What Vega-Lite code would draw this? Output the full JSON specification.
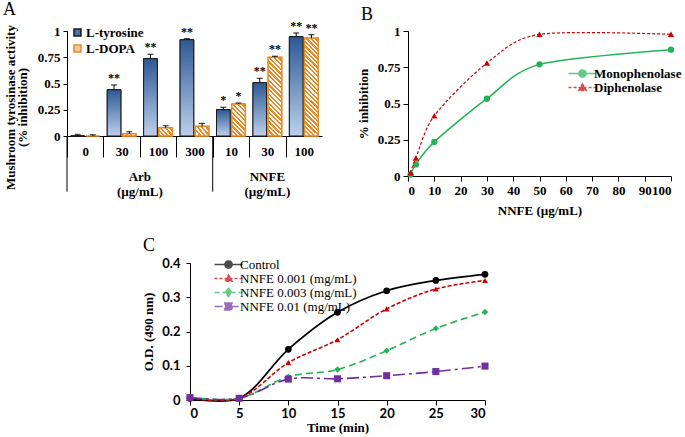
{
"$schema":"https://vega.github.io/schema/vega-lite/v6.json",
"background":"white",
"padding":{"left":3,"top":0,"right":2,"bottom":0},
"config":{"font":"Liberation Serif","view":{"stroke":null},
"axis":{"grid":false,"domainColor":"#000","tickColor":"#000","labelColor":"#000","titleColor":"#000","labelFont":"Liberation Serif","titleFont":"Liberation Serif"},
"legend":{"labelColor":"#000","labelFont":"Liberation Serif"},
"title":{"color":"#000","font":"Liberation Serif"},
"text":{"font":"Liberation Serif"}},
"spacing":20,
"align":"none",
"resolve":{"scale":{"color":"independent","stroke":"independent","shape":"independent","strokeDash":"independent"},"legend":{"color":"independent","stroke":"independent","shape":"independent","strokeDash":"independent"}},
"vconcat":[
{"spacing":35,"align":"none",
"resolve":{"scale":{"color":"independent","stroke":"independent","shape":"independent","strokeDash":"independent"},"legend":{"color":"independent","stroke":"independent","shape":"independent","strokeDash":"independent"}},
"hconcat":[
{
"width":255,"height":105,
"title":{"text":"A","anchor":"start","frame":"group","dx":-64,"fontSize":18,"fontWeight":"normal","offset":1},
"data":{"values":[
{"cat":"Arb|0","substrate":"L-tyrosine","value":0.0,"hi":0.015,"sig":""},
{"cat":"Arb|0","substrate":"L-DOPA","value":0.0,"hi":0.012,"sig":""},
{"cat":"Arb|30","substrate":"L-tyrosine","value":0.441,"hi":0.486,"sig":"**"},
{"cat":"Arb|30","substrate":"L-DOPA","value":0.022,"hi":0.041,"sig":""},
{"cat":"Arb|100","substrate":"L-tyrosine","value":0.737,"hi":0.778,"sig":"**"},
{"cat":"Arb|100","substrate":"L-DOPA","value":0.079,"hi":0.098,"sig":""},
{"cat":"Arb|300","substrate":"L-tyrosine","value":0.917,"hi":0.927,"sig":"**"},
{"cat":"Arb|300","substrate":"L-DOPA","value":0.092,"hi":0.12,"sig":""},
{"cat":"NNFE|10","substrate":"L-tyrosine","value":0.251,"hi":0.273,"sig":"*"},
{"cat":"NNFE|10","substrate":"L-DOPA","value":0.305,"hi":0.314,"sig":"*"},
{"cat":"NNFE|30","substrate":"L-tyrosine","value":0.508,"hi":0.549,"sig":"**"},
{"cat":"NNFE|30","substrate":"L-DOPA","value":0.749,"hi":0.759,"sig":"**"},
{"cat":"NNFE|100","substrate":"L-tyrosine","value":0.946,"hi":0.981,"sig":"**"},
{"cat":"NNFE|100","substrate":"L-DOPA","value":0.933,"hi":0.965,"sig":"**"}
]},
"encoding":{
"x":{"field":"cat","type":"nominal","scale":{"domain":["Arb|0","Arb|30","Arb|100","Arb|300","NNFE|10","NNFE|30","NNFE|100"],"paddingInner":0,"paddingOuter":0},
 "axis":{"labelExpr":"split(datum.label,'|')[1]","labelAngle":0,"labelFontSize":13,"labelFontWeight":"bold","tickBand":"extent","tickSize":21,"labelPadding":-12,"tickOpacity":{"condition":{"test":"datum.value=='NNFE|100'","value":0},"value":1},"title":null}}
},
"layer":[
{"mark":{"type":"bar","strokeWidth":1},
"encoding":{
"y":{"field":"value","type":"quantitative","scale":{"domain":[0,1]},"axis":{"values":[0,0.25,0.5,0.75,1],"format":".2~f","labelFontSize":13,"labelFontWeight":"bold","tickSize":4,"labelPadding":3,"title":["Mushroom tyrosinase activity","(% inhibition)"],"titleFontSize":13,"titleFontWeight":"bold","titlePadding":8,"titleLineHeight":12,"titleY":76}},
"xOffset":{"field":"substrate","type":"nominal","scale":{"domain":["L-tyrosine","L-DOPA"],"paddingInner":0.1,"paddingOuter":0.25}},
"color":{"field":"substrate","type":"nominal","scale":{"domain":["L-tyrosine","L-DOPA"],"range":["#4a72aa","#f9c9a0"]},
 "legend":{"orient":"none","legendX":4,"legendY":-5,"title":null,"labelFontSize":13,"labelFontWeight":"bold","symbolType":"square","symbolSize":49,"rowPadding":2,"labelOffset":2}},
"stroke":{"field":"substrate","type":"nominal","scale":{"domain":["L-tyrosine","L-DOPA"],"range":["#1a1a1a","#e82"]},"legend":{"orient":"none","legendX":4,"legendY":-5,"title":null,"labelFontSize":13,"labelFontWeight":"bold","symbolType":"square","symbolSize":49,"rowPadding":2,"labelOffset":2}}
}},
{"transform":[{"filter":"datum.substrate=='L-tyrosine'"}],
"mark":{"type":"bar","stroke":"#1a1a1a","strokeWidth":1,"fill":{"gradient":"linear","x1":0,"y1":0,"x2":0,"y2":1,"stops":[{"offset":0,"color":"#2e5894"},{"offset":1,"color":"#bcd0ec"}]}},
"encoding":{"xOffset":{"field":"substrate","type":"nominal"},
"y":{"field":"value","type":"quantitative","scale":{"domain":[0,1]},"axis":{"values":[0,0.25,0.5,0.75,1],"format":".2~f","labelFontSize":13,"labelFontWeight":"bold","tickSize":4,"labelPadding":3,"title":["Mushroom tyrosinase activity","(% inhibition)"],"titleFontSize":13,"titleFontWeight":"bold","titlePadding":8,"titleLineHeight":12,"titleY":76}}}},
{"transform":[{"filter":"datum.substrate=='L-DOPA' && (datum.cat=='Arb|30' || datum.cat=='Arb|100' || datum.cat=='Arb|300')"}],
"mark":{"type":"bar","stroke":"#e82","strokeWidth":1.5,"fill":{"gradient":"linear","x1":0,"y1":1,"x2":1.18,"y2":0.306,"stops":[
{"offset":0.1,"color":"#e82"},{"offset":0.1,"color":"#fff"},{"offset":0.2,"color":"#fff"},{"offset":0.2,"color":"#e82"},
{"offset":0.3,"color":"#e82"},{"offset":0.3,"color":"#fff"},{"offset":0.4,"color":"#fff"},{"offset":0.4,"color":"#e82"},
{"offset":0.5,"color":"#e82"},{"offset":0.5,"color":"#fff"},{"offset":0.6,"color":"#fff"},{"offset":0.6,"color":"#e82"},
{"offset":0.7,"color":"#e82"},{"offset":0.7,"color":"#fff"},{"offset":0.8,"color":"#fff"},{"offset":0.8,"color":"#e82"},
{"offset":0.9,"color":"#e82"},{"offset":0.9,"color":"#fff"}]}},
"encoding":{"xOffset":{"field":"substrate","type":"nominal"},
"y":{"field":"value","type":"quantitative","scale":{"domain":[0,1]},"axis":{"values":[0,0.25,0.5,0.75,1],"format":".2~f","labelFontSize":13,"labelFontWeight":"bold","tickSize":4,"labelPadding":3,"title":["Mushroom tyrosinase activity","(% inhibition)"],"titleFontSize":13,"titleFontWeight":"bold","titlePadding":8,"titleLineHeight":12,"titleY":76}}}},
{"transform":[{"filter":"datum.substrate=='L-DOPA' && datum.cat=='NNFE|10'"}],
"mark":{"type":"bar","stroke":"#e82","strokeWidth":1.5,"fill":{"gradient":"linear","x1":0,"y1":1,"x2":0.515,"y2":-0.207,"stops":[
{"offset":0.05,"color":"#e82"},{"offset":0.05,"color":"#fff"},{"offset":0.1,"color":"#fff"},{"offset":0.1,"color":"#e82"},
{"offset":0.15,"color":"#e82"},{"offset":0.15,"color":"#fff"},{"offset":0.2,"color":"#fff"},{"offset":0.2,"color":"#e82"},
{"offset":0.25,"color":"#e82"},{"offset":0.25,"color":"#fff"},{"offset":0.3,"color":"#fff"},{"offset":0.3,"color":"#e82"},
{"offset":0.35,"color":"#e82"},{"offset":0.35,"color":"#fff"},{"offset":0.4,"color":"#fff"},{"offset":0.4,"color":"#e82"},
{"offset":0.45,"color":"#e82"},{"offset":0.45,"color":"#fff"},{"offset":0.5,"color":"#fff"},{"offset":0.5,"color":"#e82"},
{"offset":0.55,"color":"#e82"},{"offset":0.55,"color":"#fff"},{"offset":0.6,"color":"#fff"},{"offset":0.6,"color":"#e82"},
{"offset":0.65,"color":"#e82"},{"offset":0.65,"color":"#fff"},{"offset":0.7,"color":"#fff"},{"offset":0.7,"color":"#e82"},
{"offset":0.75,"color":"#e82"},{"offset":0.75,"color":"#fff"},{"offset":0.8,"color":"#fff"},{"offset":0.8,"color":"#e82"},
{"offset":0.85,"color":"#e82"},{"offset":0.85,"color":"#fff"},{"offset":0.9,"color":"#fff"},{"offset":0.9,"color":"#e82"},
{"offset":0.95,"color":"#e82"},{"offset":0.95,"color":"#fff"}]}},
"encoding":{"xOffset":{"field":"substrate","type":"nominal"},
"y":{"field":"value","type":"quantitative","scale":{"domain":[0,1]},"axis":{"values":[0,0.25,0.5,0.75,1],"format":".2~f","labelFontSize":13,"labelFontWeight":"bold","tickSize":4,"labelPadding":3,"title":["Mushroom tyrosinase activity","(% inhibition)"],"titleFontSize":13,"titleFontWeight":"bold","titlePadding":8,"titleLineHeight":12,"titleY":76}}}},
{"transform":[{"filter":"datum.substrate=='L-DOPA' && datum.cat=='NNFE|30'"}],
"mark":{"type":"bar","stroke":"#e82","strokeWidth":1.5,"fill":{"gradient":"linear","x1":0,"y1":1,"x2":0.197,"y2":-0.139,"stops":[
{"offset":0.025,"color":"#e82"},{"offset":0.025,"color":"#fff"},{"offset":0.05,"color":"#fff"},{"offset":0.05,"color":"#e82"},
{"offset":0.075,"color":"#e82"},{"offset":0.075,"color":"#fff"},{"offset":0.1,"color":"#fff"},{"offset":0.1,"color":"#e82"},
{"offset":0.125,"color":"#e82"},{"offset":0.125,"color":"#fff"},{"offset":0.15,"color":"#fff"},{"offset":0.15,"color":"#e82"},
{"offset":0.175,"color":"#e82"},{"offset":0.175,"color":"#fff"},{"offset":0.2,"color":"#fff"},{"offset":0.2,"color":"#e82"},
{"offset":0.225,"color":"#e82"},{"offset":0.225,"color":"#fff"},{"offset":0.25,"color":"#fff"},{"offset":0.25,"color":"#e82"},
{"offset":0.275,"color":"#e82"},{"offset":0.275,"color":"#fff"},{"offset":0.3,"color":"#fff"},{"offset":0.3,"color":"#e82"},
{"offset":0.325,"color":"#e82"},{"offset":0.325,"color":"#fff"},{"offset":0.35,"color":"#fff"},{"offset":0.35,"color":"#e82"},
{"offset":0.375,"color":"#e82"},{"offset":0.375,"color":"#fff"},{"offset":0.4,"color":"#fff"},{"offset":0.4,"color":"#e82"},
{"offset":0.425,"color":"#e82"},{"offset":0.425,"color":"#fff"},{"offset":0.45,"color":"#fff"},{"offset":0.45,"color":"#e82"},
{"offset":0.475,"color":"#e82"},{"offset":0.475,"color":"#fff"},{"offset":0.5,"color":"#fff"},{"offset":0.5,"color":"#e82"},
{"offset":0.525,"color":"#e82"},{"offset":0.525,"color":"#fff"},{"offset":0.55,"color":"#fff"},{"offset":0.55,"color":"#e82"},
{"offset":0.575,"color":"#e82"},{"offset":0.575,"color":"#fff"},{"offset":0.6,"color":"#fff"},{"offset":0.6,"color":"#e82"},
{"offset":0.625,"color":"#e82"},{"offset":0.625,"color":"#fff"},{"offset":0.65,"color":"#fff"},{"offset":0.65,"color":"#e82"},
{"offset":0.675,"color":"#e82"},{"offset":0.675,"color":"#fff"},{"offset":0.7,"color":"#fff"},{"offset":0.7,"color":"#e82"},
{"offset":0.725,"color":"#e82"},{"offset":0.725,"color":"#fff"},{"offset":0.75,"color":"#fff"},{"offset":0.75,"color":"#e82"},
{"offset":0.775,"color":"#e82"},{"offset":0.775,"color":"#fff"},{"offset":0.8,"color":"#fff"},{"offset":0.8,"color":"#e82"},
{"offset":0.825,"color":"#e82"},{"offset":0.825,"color":"#fff"},{"offset":0.85,"color":"#fff"},{"offset":0.85,"color":"#e82"},
{"offset":0.875,"color":"#e82"},{"offset":0.875,"color":"#fff"},{"offset":0.9,"color":"#fff"},{"offset":0.9,"color":"#e82"},
{"offset":0.925,"color":"#e82"},{"offset":0.925,"color":"#fff"},{"offset":0.95,"color":"#fff"},{"offset":0.95,"color":"#e82"},
{"offset":0.975,"color":"#e82"},{"offset":0.975,"color":"#fff"}]}},
"encoding":{"xOffset":{"field":"substrate","type":"nominal"},
"y":{"field":"value","type":"quantitative","scale":{"domain":[0,1]},"axis":{"values":[0,0.25,0.5,0.75,1],"format":".2~f","labelFontSize":13,"labelFontWeight":"bold","tickSize":4,"labelPadding":3,"title":["Mushroom tyrosinase activity","(% inhibition)"],"titleFontSize":13,"titleFontWeight":"bold","titlePadding":8,"titleLineHeight":12,"titleY":76}}}},
{"transform":[{"filter":"datum.substrate=='L-DOPA' && datum.cat=='NNFE|100'"}],
"mark":{"type":"bar","stroke":"#e82","strokeWidth":1.5,"fill":{"gradient":"linear","x1":0,"y1":1,"x2":0.155,"y2":-0.118,"stops":[
{"offset":0.02,"color":"#e82"},{"offset":0.02,"color":"#fff"},{"offset":0.04,"color":"#fff"},{"offset":0.04,"color":"#e82"},
{"offset":0.06,"color":"#e82"},{"offset":0.06,"color":"#fff"},{"offset":0.08,"color":"#fff"},{"offset":0.08,"color":"#e82"},
{"offset":0.1,"color":"#e82"},{"offset":0.1,"color":"#fff"},{"offset":0.12,"color":"#fff"},{"offset":0.12,"color":"#e82"},
{"offset":0.14,"color":"#e82"},{"offset":0.14,"color":"#fff"},{"offset":0.16,"color":"#fff"},{"offset":0.16,"color":"#e82"},
{"offset":0.18,"color":"#e82"},{"offset":0.18,"color":"#fff"},{"offset":0.2,"color":"#fff"},{"offset":0.2,"color":"#e82"},
{"offset":0.22,"color":"#e82"},{"offset":0.22,"color":"#fff"},{"offset":0.24,"color":"#fff"},{"offset":0.24,"color":"#e82"},
{"offset":0.26,"color":"#e82"},{"offset":0.26,"color":"#fff"},{"offset":0.28,"color":"#fff"},{"offset":0.28,"color":"#e82"},
{"offset":0.3,"color":"#e82"},{"offset":0.3,"color":"#fff"},{"offset":0.32,"color":"#fff"},{"offset":0.32,"color":"#e82"},
{"offset":0.34,"color":"#e82"},{"offset":0.34,"color":"#fff"},{"offset":0.36,"color":"#fff"},{"offset":0.36,"color":"#e82"},
{"offset":0.38,"color":"#e82"},{"offset":0.38,"color":"#fff"},{"offset":0.4,"color":"#fff"},{"offset":0.4,"color":"#e82"},
{"offset":0.42,"color":"#e82"},{"offset":0.42,"color":"#fff"},{"offset":0.44,"color":"#fff"},{"offset":0.44,"color":"#e82"},
{"offset":0.46,"color":"#e82"},{"offset":0.46,"color":"#fff"},{"offset":0.48,"color":"#fff"},{"offset":0.48,"color":"#e82"},
{"offset":0.5,"color":"#e82"},{"offset":0.5,"color":"#fff"},{"offset":0.52,"color":"#fff"},{"offset":0.52,"color":"#e82"},
{"offset":0.54,"color":"#e82"},{"offset":0.54,"color":"#fff"},{"offset":0.56,"color":"#fff"},{"offset":0.56,"color":"#e82"},
{"offset":0.58,"color":"#e82"},{"offset":0.58,"color":"#fff"},{"offset":0.6,"color":"#fff"},{"offset":0.6,"color":"#e82"},
{"offset":0.62,"color":"#e82"},{"offset":0.62,"color":"#fff"},{"offset":0.64,"color":"#fff"},{"offset":0.64,"color":"#e82"},
{"offset":0.66,"color":"#e82"},{"offset":0.66,"color":"#fff"},{"offset":0.68,"color":"#fff"},{"offset":0.68,"color":"#e82"},
{"offset":0.7,"color":"#e82"},{"offset":0.7,"color":"#fff"},{"offset":0.72,"color":"#fff"},{"offset":0.72,"color":"#e82"},
{"offset":0.74,"color":"#e82"},{"offset":0.74,"color":"#fff"},{"offset":0.76,"color":"#fff"},{"offset":0.76,"color":"#e82"},
{"offset":0.78,"color":"#e82"},{"offset":0.78,"color":"#fff"},{"offset":0.8,"color":"#fff"},{"offset":0.8,"color":"#e82"},
{"offset":0.82,"color":"#e82"},{"offset":0.82,"color":"#fff"},{"offset":0.84,"color":"#fff"},{"offset":0.84,"color":"#e82"},
{"offset":0.86,"color":"#e82"},{"offset":0.86,"color":"#fff"},{"offset":0.88,"color":"#fff"},{"offset":0.88,"color":"#e82"},
{"offset":0.9,"color":"#e82"},{"offset":0.9,"color":"#fff"},{"offset":0.92,"color":"#fff"},{"offset":0.92,"color":"#e82"},
{"offset":0.94,"color":"#e82"},{"offset":0.94,"color":"#fff"},{"offset":0.96,"color":"#fff"},{"offset":0.96,"color":"#e82"},
{"offset":0.98,"color":"#e82"},{"offset":0.98,"color":"#fff"}]}},
"encoding":{"xOffset":{"field":"substrate","type":"nominal"},
"y":{"field":"value","type":"quantitative","scale":{"domain":[0,1]},"axis":{"values":[0,0.25,0.5,0.75,1],"format":".2~f","labelFontSize":13,"labelFontWeight":"bold","tickSize":4,"labelPadding":3,"title":["Mushroom tyrosinase activity","(% inhibition)"],"titleFontSize":13,"titleFontWeight":"bold","titlePadding":8,"titleLineHeight":12,"titleY":76}}}},
{"mark":{"type":"rule","color":"#000","strokeWidth":1},
"encoding":{"xOffset":{"field":"substrate","type":"nominal"},
"y":{"field":"value","type":"quantitative","scale":{"domain":[0,1]},"axis":{"values":[0,0.25,0.5,0.75,1],"format":".2~f","labelFontSize":13,"labelFontWeight":"bold","tickSize":4,"labelPadding":3,"title":["Mushroom tyrosinase activity","(% inhibition)"],"titleFontSize":13,"titleFontWeight":"bold","titlePadding":8,"titleLineHeight":12,"titleY":76}},
"y2":{"field":"hi"}}},
{"mark":{"type":"tick","color":"#000","size":6,"thickness":1.3},
"encoding":{"xOffset":{"field":"substrate","type":"nominal"},
"y":{"field":"hi","type":"quantitative","scale":{"domain":[0,1]},"axis":{"values":[0,0.25,0.5,0.75,1],"format":".2~f","labelFontSize":13,"labelFontWeight":"bold","tickSize":4,"labelPadding":3,"title":["Mushroom tyrosinase activity","(% inhibition)"],"titleFontSize":13,"titleFontWeight":"bold","titlePadding":8,"titleLineHeight":12,"titleY":76}}}},
{"transform":[{"filter":"datum.sig != ''"}],
"mark":{"type":"text","fontSize":12,"fontWeight":"bold","baseline":"alphabetic","dy":-3,"fill":"#000"},
"encoding":{"xOffset":{"field":"substrate","type":"nominal"},
"y":{"field":"hi","type":"quantitative","scale":{"domain":[0,1]},"axis":{"values":[0,0.25,0.5,0.75,1],"format":".2~f","labelFontSize":13,"labelFontWeight":"bold","tickSize":4,"labelPadding":3,"title":["Mushroom tyrosinase activity","(% inhibition)"],"titleFontSize":13,"titleFontWeight":"bold","titlePadding":8,"titleLineHeight":12,"titleY":76}},
"text":{"field":"sig"}}},
{"data":{"values":[{"cat":"Arb|0"},{"cat":"NNFE|10"}]},
"mark":{"type":"rule","color":"#000","strokeWidth":1},
"encoding":{"x":{"field":"cat","type":"nominal","bandPosition":0},
"y":{"datum":0,"type":"quantitative","scale":{"domain":[0,1]},"axis":{"values":[0,0.25,0.5,0.75,1],"format":".2~f","labelFontSize":13,"labelFontWeight":"bold","tickSize":4,"labelPadding":3,"title":["Mushroom tyrosinase activity","(% inhibition)"],"titleFontSize":13,"titleFontWeight":"bold","titlePadding":8,"titleLineHeight":12,"titleY":76}},
"y2":{"datum":-0.53}}},
{"data":{"values":[{"cat":"Arb|30","group":"Arb\n(µg/mL)"}]},
"mark":{"type":"text","lineBreak":"\n","fontSize":13,"fontWeight":"bold","baseline":"middle","lineHeight":15,"fill":"#000"},
"encoding":{"x":{"field":"cat","type":"nominal","bandPosition":1},
"y":{"datum":-0.39,"type":"quantitative","scale":{"domain":[0,1]},"axis":{"values":[0,0.25,0.5,0.75,1],"format":".2~f","labelFontSize":13,"labelFontWeight":"bold","tickSize":4,"labelPadding":3,"title":["Mushroom tyrosinase activity","(% inhibition)"],"titleFontSize":13,"titleFontWeight":"bold","titlePadding":8,"titleLineHeight":12,"titleY":76}},
"text":{"field":"group"}}},
{"data":{"values":[{"cat":"NNFE|30","group":"NNFE\n(µg/mL)"}]},
"mark":{"type":"text","lineBreak":"\n","fontSize":13,"fontWeight":"bold","baseline":"middle","lineHeight":15,"fill":"#000"},
"encoding":{"x":{"field":"cat","type":"nominal","bandPosition":0.5},
"y":{"datum":-0.39,"type":"quantitative","scale":{"domain":[0,1]},"axis":{"values":[0,0.25,0.5,0.75,1],"format":".2~f","labelFontSize":13,"labelFontWeight":"bold","tickSize":4,"labelPadding":3,"title":["Mushroom tyrosinase activity","(% inhibition)"],"titleFontSize":13,"titleFontWeight":"bold","titlePadding":8,"titleLineHeight":12,"titleY":76}},
"text":{"field":"group"}}}
]
},
{
"width":263,"height":145,
"title":{"text":"B","anchor":"start","frame":"group","dx":-47,"fontSize":18,"fontWeight":"normal","offset":1},
"data":{"values":[
{"series":"Monophenolase","conc":1,"value":0.01},
{"series":"Monophenolase","conc":3,"value":0.08},
{"series":"Monophenolase","conc":10,"value":0.235},
{"series":"Monophenolase","conc":30,"value":0.533},
{"series":"Monophenolase","conc":50,"value":0.77},
{"series":"Monophenolase","conc":100,"value":0.871},
{"series":"Diphenolase","conc":1,"value":0.022},
{"series":"Diphenolase","conc":3,"value":0.124},
{"series":"Diphenolase","conc":10,"value":0.416},
{"series":"Diphenolase","conc":30,"value":0.779},
{"series":"Diphenolase","conc":50,"value":0.977},
{"series":"Diphenolase","conc":100,"value":0.977}
]},
"encoding":{
"x":{"field":"conc","type":"quantitative","scale":{"domain":[0,100],"nice":false},"axis":{"values":[0,10,20,30,40,50,60,70,80,90,100],"labelFontSize":13,"labelFontWeight":"bold","tickSize":5,"labelPadding":3,"title":"NNFE (µg/mL)","titleFontSize":13,"titleFontWeight":"bold","titlePadding":7}},
"y":{"field":"value","type":"quantitative","scale":{"domain":[0,1]},"axis":{"values":[0,0.25,0.5,0.75,1],"format":".2~f","labelFontSize":13,"labelFontWeight":"bold","tickSize":5,"labelPadding":3,"title":"% inhibition","titleFontSize":13,"titleFontWeight":"bold","titlePadding":7}}
},
"layer":[
{"transform":[{"filter":"datum.series=='Monophenolase'"}],"mark":{"type":"line","interpolate":"cardinal","tension":0.15,"color":"#22b456","strokeWidth":1.5,"point":{"filled":true,"size":40,"color":"#22b456","shape":"circle"}}},
{"transform":[{"filter":"datum.series=='Diphenolase'"}],"mark":{"type":"line","interpolate":"cardinal","tension":0.15,"color":"#cc0000","strokeWidth":1.2,"strokeDash":[3,2],"point":{"filled":true,"size":40,"color":"#cc0000","shape":"triangle-up"}}},
{"transform":[{"filter":"false"}],"mark":{"type":"point","filled":true,"size":64,"strokeWidth":1.5},
"encoding":{
"color":{"field":"series","type":"nominal","scale":{"domain":["Monophenolase","Diphenolase"],"range":["#22b456","#cc0000"]},"legend":{"orient":"none","legendX":168,"legendY":36,"title":null,"labelFontSize":13,"labelFontWeight":"bold","symbolSize":64,"symbolStrokeWidth":1.5,"labelOffset":5,"rowPadding":-1.5}},
"stroke":{"field":"series","type":"nominal","scale":{"domain":["Monophenolase","Diphenolase"],"range":["#22b456","#cc0000"]},"legend":{"orient":"none","legendX":168,"legendY":36,"title":null,"labelFontSize":13,"labelFontWeight":"bold","symbolSize":64,"symbolStrokeWidth":1.5,"labelOffset":5,"rowPadding":-1.5}},
"shape":{"field":"series","type":"nominal","scale":{"domain":["Monophenolase","Diphenolase"],"range":["M-3.5,0H3.5M0.9,0A0.9,0.9,0,1,1,-0.9,0A0.9,0.9,0,1,1,0.9,0Z","M-3.5,0H3.5M0,-0.9L0.95,0.75L-0.95,0.75Z"]},"legend":{"orient":"none","legendX":168,"legendY":36,"title":null,"labelFontSize":13,"labelFontWeight":"bold","symbolSize":64,"symbolStrokeWidth":1.5,"labelOffset":5,"rowPadding":-1.5}},
"strokeDash":{"field":"series","type":"nominal","scale":{"domain":["Monophenolase","Diphenolase"],"range":[[1,0],[3,2]]},"legend":{"orient":"none","legendX":168,"legendY":36,"title":null,"labelFontSize":13,"labelFontWeight":"bold","symbolSize":64,"symbolStrokeWidth":1.5,"labelOffset":5,"rowPadding":-1.5}}
}}
]
}
]},
{"spacing":0,"align":"none",
"resolve":{"scale":{"color":"independent","stroke":"independent","shape":"independent","strokeDash":"independent"},"legend":{"color":"independent","stroke":"independent","shape":"independent","strokeDash":"independent"}},
"hconcat":[
{"width":75,"height":10,"data":{"values":[]},"mark":"point"},
{
"width":295,"height":137,
"title":{"text":"C","anchor":"start","frame":"group","dx":-47,"fontSize":18,"fontWeight":"normal","offset":2},
"data":{"values":[
{"series":"Control","time":0,"od":0.005},{"series":"Control","time":5,"od":0.005},{"series":"Control","time":10,"od":0.148},{"series":"Control","time":15,"od":0.256},{"series":"Control","time":20,"od":0.319},{"series":"Control","time":25,"od":0.349},{"series":"Control","time":30,"od":0.367},
{"series":"NNFE 0.001 (mg/mL)","time":0,"od":0.005},{"series":"NNFE 0.001 (mg/mL)","time":5,"od":0.005},{"series":"NNFE 0.001 (mg/mL)","time":10,"od":0.109},{"series":"NNFE 0.001 (mg/mL)","time":15,"od":0.176},{"series":"NNFE 0.001 (mg/mL)","time":20,"od":0.266},{"series":"NNFE 0.001 (mg/mL)","time":25,"od":0.324},{"series":"NNFE 0.001 (mg/mL)","time":30,"od":0.349},
{"series":"NNFE 0.003 (mg/mL)","time":0,"od":0.007},{"series":"NNFE 0.003 (mg/mL)","time":5,"od":0.005},{"series":"NNFE 0.003 (mg/mL)","time":10,"od":0.068},{"series":"NNFE 0.003 (mg/mL)","time":15,"od":0.089},{"series":"NNFE 0.003 (mg/mL)","time":20,"od":0.144},{"series":"NNFE 0.003 (mg/mL)","time":25,"od":0.209},{"series":"NNFE 0.003 (mg/mL)","time":30,"od":0.257},
{"series":"NNFE 0.01 (mg/mL)","time":0,"od":0.007},{"series":"NNFE 0.01 (mg/mL)","time":5,"od":0.005},{"series":"NNFE 0.01 (mg/mL)","time":10,"od":0.061},{"series":"NNFE 0.01 (mg/mL)","time":15,"od":0.062},{"series":"NNFE 0.01 (mg/mL)","time":20,"od":0.071},{"series":"NNFE 0.01 (mg/mL)","time":25,"od":0.083},{"series":"NNFE 0.01 (mg/mL)","time":30,"od":0.099}
]},
"encoding":{
"x":{"field":"time","type":"quantitative","scale":{"domain":[0,30],"nice":false},"axis":{"values":[0,5,10,15,20,25,30],"labelFont":"Lato","labelFontSize":13,"labelFontWeight":"bold","tickSize":5,"labelPadding":2,"title":"Time (min)","titleFontSize":13,"titleFontWeight":"bold","titlePadding":1}},
"y":{"field":"od","type":"quantitative","scale":{"domain":[0,0.4]},"axis":{"values":[0,0.1,0.2,0.3,0.4],"format":".1~f","labelFont":"Lato","labelFontSize":13,"labelFontWeight":"bold","tickSize":4,"labelPadding":6,"title":"O.D. (490 nm)","titleFontSize":13,"titleFontWeight":"bold","titlePadding":6}}
},
"layer":[
{"transform":[{"filter":"datum.series=='Control'"}],"mark":{"type":"line","interpolate":"catmull-rom","color":"#000","strokeWidth":1.8,"point":{"filled":true,"size":45,"color":"#000","shape":"circle"}}},
{"transform":[{"filter":"datum.series=='NNFE 0.001 (mg/mL)'"}],"mark":{"type":"line","interpolate":"catmull-rom","color":"#cc0000","strokeWidth":1.6,"strokeDash":[4,2],"point":{"filled":true,"size":35,"color":"#cc0000","shape":"triangle-up"}}},
{"transform":[{"filter":"datum.series=='NNFE 0.003 (mg/mL)'"}],"mark":{"type":"line","interpolate":"catmull-rom","color":"#22b456","strokeWidth":1.6,"strokeDash":[7,4],"point":{"filled":true,"size":40,"color":"#22b456","shape":"diamond"}}},
{"transform":[{"filter":"datum.series=='NNFE 0.01 (mg/mL)'"}],"mark":{"type":"line","interpolate":"catmull-rom","color":"#7030a0","strokeWidth":1.6,"strokeDash":[12,4,3,4],"point":{"filled":true,"size":50,"color":"#7030a0","shape":"square"}}},
{"transform":[{"filter":"false"}],"mark":{"type":"point","filled":true,"size":64,"strokeWidth":1.5},
"encoding":{
"color":{"field":"series","type":"nominal","scale":{"domain":["Control","NNFE 0.001 (mg/mL)","NNFE 0.003 (mg/mL)","NNFE 0.01 (mg/mL)"],"range":["#000","#cc0000","#22b456","#7030a0"]},"legend":{"orient":"none","legendX":32,"legendY":-5,"title":null,"labelFontSize":13,"labelFontWeight":"normal","symbolSize":64,"symbolStrokeWidth":1.5,"labelOffset":5,"rowPadding":-2.5}},
"stroke":{"field":"series","type":"nominal","scale":{"domain":["Control","NNFE 0.001 (mg/mL)","NNFE 0.003 (mg/mL)","NNFE 0.01 (mg/mL)"],"range":["#000","#cc0000","#22b456","#7030a0"]},"legend":{"orient":"none","legendX":32,"legendY":-5,"title":null,"labelFontSize":13,"labelFontWeight":"normal","symbolSize":64,"symbolStrokeWidth":1.5,"labelOffset":5,"rowPadding":-2.5}},
"shape":{"field":"series","type":"nominal","scale":{"domain":["Control","NNFE 0.001 (mg/mL)","NNFE 0.003 (mg/mL)","NNFE 0.01 (mg/mL)"],"range":["M-3.5,0H3.5M0.9,0A0.9,0.9,0,1,1,-0.9,0A0.9,0.9,0,1,1,0.9,0Z","M-3.5,0H3.5M0,-0.85L0.9,0.7L-0.9,0.7Z","M-3.5,0H3.5M0,-1L0.85,0L0,1L-0.85,0Z","M-3.5,0H3.5M-0.9,-0.9H0.9V0.9H-0.9Z"]},"legend":{"orient":"none","legendX":32,"legendY":-5,"title":null,"labelFontSize":13,"labelFontWeight":"normal","symbolSize":64,"symbolStrokeWidth":1.5,"labelOffset":5,"rowPadding":-2.5}},
"strokeDash":{"field":"series","type":"nominal","scale":{"domain":["Control","NNFE 0.001 (mg/mL)","NNFE 0.003 (mg/mL)","NNFE 0.01 (mg/mL)"],"range":[[1,0],[3,2],[5,3],[8,3,2,3]]},"legend":{"orient":"none","legendX":32,"legendY":-5,"title":null,"labelFontSize":13,"labelFontWeight":"normal","symbolSize":64,"symbolStrokeWidth":1.5,"labelOffset":5,"rowPadding":-2.5}}
}}
]
}
]}
]
}
